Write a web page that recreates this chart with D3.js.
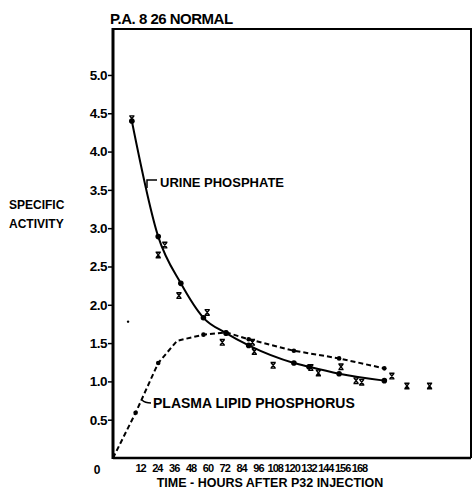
<!DOCTYPE html>
<html>
<head>
<meta charset="utf-8">
<script src="https://cdn.jsdelivr.net/npm/d3@7"></script>
<style>
  body { margin: 0; background: #fff; }
  svg { font-family: "Liberation Sans", Arial, sans-serif; font-weight: bold; }
</style>
</head>
<body>
<div id="chart"></div>
<script>
// hours after injection / specific activity
const urineTimes  = [10, 24, 36, 48, 60, 72, 96, 104, 120, 144]
const urineValues = [4.40, 2.89, 2.28, 1.83, 1.63, 1.47, 1.24, 1.19, 1.10, 1.01]

const plasmaTimes  = [0, 12, 24, 34, 48, 60, 72, 96, 120, 144]
const plasmaValues = [0, 0.59, 1.24, 1.53, 1.61, 1.64, 1.55, 1.40, 1.30, 1.17]

// the "x" marks scattered around the curves
const crossTimes  = [10, 24, 27.5, 35, 50, 58, 74, 75, 85, 105, 109, 121, 129, 132, 148, 156, 168]
const crossValues = [4.43, 2.65, 2.78, 2.12, 1.90, 1.51, 1.51, 1.39, 1.21, 1.18, 1.11, 1.19, 1.01, 0.99, 1.07, 0.94, 0.94]

const yTicks = [0.5, 1.0, 1.5, 2.0, 2.5, 3.0, 3.5, 4.0, 4.5, 5.0]
const xTickLabels = [12, 24, 36, 48, 60, 72, 84, 96, 108, 120, 132, 144, 156, 168]

const width = 473
const height = 495

const svg = d3.select("#chart")
  .append("svg")
    .attr("width", width)
    .attr("height", height)

svg.append("rect")
  .attr("width", width)
  .attr("height", height)
  .attr("fill", "#fff")

const x = d3.scaleLinear().domain([0, 190]).range([113, 471])
const y = d3.scaleLinear().domain([0, 5.6]).range([458, 29])
// the hand lettered hour labels sit closer together than the data spacing
const xLab = d3.scaleLinear().domain([12, 168]).range([140, 359])

// frame
svg.append("path")
  .attr("d", `M${x(0)},${y(5.6)}H${x(190)}V${y(0)}`)
  .attr("fill", "none")
  .attr("stroke", "#000")
  .attr("stroke-width", 2)
svg.append("line")
  .attr("x1", x(0)).attr("x2", x(190))
  .attr("y1", y(0)).attr("y2", y(0))
  .attr("stroke", "#000").attr("stroke-width", 2.5)
svg.append("line")
  .attr("x1", x(0)).attr("x2", x(0))
  .attr("y1", y(5.6) - 1).attr("y2", y(0) + 1)
  .attr("stroke", "#000").attr("stroke-width", 3)

// y axis
const yAxis = svg.append("g")
  .attr("transform", `translate(${x(0) - 1},0)`)
  .call(d3.axisLeft(y).tickValues(yTicks).tickSize(4).tickPadding(1).tickFormat(d3.format(".1f")))
yAxis.select(".domain").remove()
yAxis.selectAll(".tick line").attr("stroke-width", 1.5)
yAxis.selectAll("text")
  .style("font-size", "13.5px")
  .style("font-family", "'Liberation Sans', Arial, sans-serif")
  .style("font-weight", "bold")
  .attr("letter-spacing", "-0.5")
  .attr("fill", "#000")

// x axis labels
const xAxis = svg.append("g")
  .attr("transform", `translate(0,${y(0)})`)
  .call(d3.axisBottom(xLab).tickValues(xTickLabels).tickSize(0).tickPadding(6))
xAxis.select(".domain").remove()
xAxis.selectAll("text")
  .style("font-size", "11px")
  .style("font-family", "'Liberation Sans', Arial, sans-serif")
  .style("font-weight", "bold")
  .attr("letter-spacing", "-1")
  .attr("fill", "#000")

svg.append("text")
  .attr("x", 97).attr("y", 474)
  .attr("text-anchor", "middle")
  .style("font-size", "12px")
  .text("0")

svg.append("text")
  .attr("x", 270).attr("y", 487)
  .attr("text-anchor", "middle")
  .style("font-size", "12.5px")
  .text("TIME - HOURS AFTER P32 INJECTION")

svg.append("text")
  .attr("x", 110).attr("y", 24)
  .style("font-size", "15px")
  .attr("letter-spacing", "-0.5")
  .text("P.A. 8 26 NORMAL")

svg.append("text")
  .attr("x", 9).attr("y", 209)
  .style("font-size", "12px")
  .text("SPECIFIC")
svg.append("text")
  .attr("x", 9).attr("y", 228)
  .style("font-size", "12px")
  .text("ACTIVITY")

// curves
const urine = urineTimes.map((t, i) => [t, urineValues[i]])
const plasma = plasmaTimes.map((t, i) => [t, plasmaValues[i]])

svg.append("path")
  .datum(urine)
  .attr("d", d3.line().x(d => x(d[0])).y(d => y(d[1])).curve(d3.curveMonotoneX))
  .attr("fill", "none")
  .attr("stroke", "#000")
  .attr("stroke-width", 2)

svg.append("path")
  .datum(plasma)
  .attr("d", d3.line().x(d => x(d[0])).y(d => y(d[1])))
  .attr("fill", "none")
  .attr("stroke", "#000")
  .attr("stroke-width", 2)
  .attr("stroke-dasharray", "5,3")

svg.selectAll("circle.urine")
  .data(urine)
  .join("circle")
    .attr("class", "urine")
    .attr("cx", d => x(d[0]))
    .attr("cy", d => y(d[1]))
    .attr("r", 2.8)

svg.selectAll("circle.plasma")
  .data(plasma.filter(d => d[0] !== 0 && d[0] !== 34))
  .join("circle")
    .attr("class", "plasma")
    .attr("cx", d => x(d[0]))
    .attr("cy", d => y(d[1]))
    .attr("r", 2.3)

// x marks, drawn as little crosses
svg.selectAll("path.cross")
  .data(crossTimes.map((t, i) => [t, crossValues[i]]))
  .join("path")
    .attr("class", "cross")
    .attr("d", d => {
      const cx = x(d[0]), cy = y(d[1])
      return `M${cx - 2.2},${cy - 2.8}L${cx + 2.2},${cy + 2.8}M${cx + 2.2},${cy - 2.8}L${cx - 2.2},${cy + 2.8}` +
             `M${cx - 2.6},${cy - 2.8}H${cx + 2.6}M${cx - 2.6},${cy + 2.8}H${cx + 2.6}`
    })
    .attr("fill", "none")
    .attr("stroke", "#000")
    .attr("stroke-width", 1.4)

// curve labels with their little leader ticks
svg.append("path")
  .attr("d", "M147,188V180H157")
  .attr("fill", "none").attr("stroke", "#000").attr("stroke-width", 1.5)
svg.append("text")
  .attr("x", 160).attr("y", 187)
  .style("font-size", "13px")
  .text("URINE PHOSPHATE")

svg.append("path")
  .attr("d", "M142,400Q145,403 151,403")
  .attr("fill", "none").attr("stroke", "#000").attr("stroke-width", 1.5)
svg.append("text")
  .attr("x", 153).attr("y", 408)
  .style("font-size", "14px")
  .text("PLASMA LIPID PHOSPHORUS")

// stray dot left of the curves
svg.append("circle")
  .attr("cx", x(8)).attr("cy", y(1.78)).attr("r", 1.2)
</script>
</body>
</html>
